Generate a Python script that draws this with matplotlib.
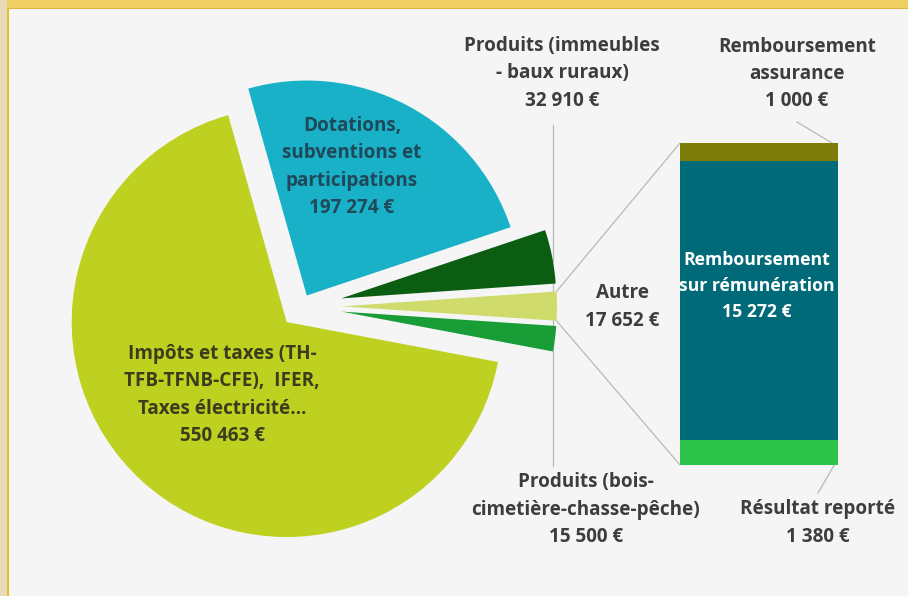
import matplotlib
matplotlib.use("Agg")
import matplotlib.pyplot as plt
from matplotlib.patches import Rectangle, ConnectionPatch
import numpy as np

# ---------------- data ----------------
pie_categories = ["Produits (bois-\ncimetière-chasse-pêche)",
                  "Autre",
                  "Produits (immeubles\n- baux ruraux)",
                  "Dotations,\nsubventions et\nparticipations",
                  "Impôts et taxes (TH-\nTFB-TFNB-CFE),  IFER,\nTaxes électricité…"]
pie_values = [15500, 17652, 32910, 197274, 550463]
pie_colors = ["#199d36", "#cfdc6c", "#0b5d12", "#19b1c8", "#bed120"]

bar_categories = ["Résultat reporté",
                  "Remboursement\nsur rémunération",
                  "Remboursement\nassurance"]
bar_values = [1380, 15272, 1000]
bar_colors = ["#2dc34a", "#016a78", "#7b7d08"]


def euro(v):
    return f"{v:,}".replace(",", " ") + " €"


W, H = 908, 596
BG = "#f5f5f5"
plt.rcParams['font.family'] = ['Open Sans', 'DejaVu Sans']

fig = plt.figure(figsize=(W / 100, H / 100), dpi=100, facecolor=BG)

# decorative frame (top and left)
fig.add_artist(Rectangle((0, 1 - 8 / H), 1, 8 / H, transform=fig.transFigure,
                         facecolor="#efcf62", edgecolor="none", zorder=0))
fig.add_artist(Rectangle((0, 1 - 9 / H), 1, 1.2 / H, transform=fig.transFigure,
                         facecolor="#dcb640", edgecolor="none", zorder=0))
fig.add_artist(Rectangle((0, 0), 7 / W, 1, transform=fig.transFigure,
                         facecolor="#e6dab9", edgecolor="none", zorder=0))
fig.add_artist(Rectangle((7 / W, 0), 2.2 / W, 1 - 8 / H, transform=fig.transFigure,
                         facecolor="#e4bd2c", edgecolor="none", zorder=0))

# ---------------- pie ----------------
ax = fig.add_axes([0, 0, 1, 1])
ax.set_facecolor("none")
R = 215
explode = [41, 41, 41, 12.3, 21.2]
wedges, _ = ax.pie(pie_values, colors=pie_colors, startangle=-10.7,
                   counterclock=True, radius=R, center=(301, H - 306.4),
                   explode=explode, wedgeprops=dict(linewidth=0, zorder=2),
                   frame=True)
ax.set_xlim(0, W)
ax.set_ylim(0, H)
ax.set_aspect("equal")
ax.axis("off")

txt = "#3d3d3d"
kw = dict(ha="center", va="center", fontsize=13.6, fontweight="bold",
          linespacing=1.5)


def T(x, yimg, s, on=None, **k):
    d = dict(kw)
    d.update(k)
    (on or ax).text(x, H - yimg, s, transform=ax.transData, **d)


T(222, 395, pie_categories[4] + "\n" + euro(pie_values[4]), color="#3a3d1c")
T(352, 167, pie_categories[3] + "\n" + euro(pie_values[3]), color="#1f4858")
T(562, 73, pie_categories[2] + "\n" + euro(pie_values[2]), color=txt)
T(622, 307, pie_categories[1] + "\n" + euro(pie_values[1]), color=txt)
T(586, 510, pie_categories[0] + "\n" + euro(pie_values[0]), color=txt)


# leader lines for the small slices (to points on their outer arc)
def arc_y(w, x, upper=True):
    cx, cy = w.center
    dy = np.sqrt(w.r ** 2 - (x - cx) ** 2)
    return cy + dy if upper else cy - dy


lc = "#b9b9b9"
xl = 553
ax.plot([xl, xl], [H - 125, arc_y(wedges[2], xl)], color=lc, lw=0.9, zorder=1)
ax.plot([xl, xl], [H - 466, arc_y(wedges[0], xl)], color=lc, lw=0.9, zorder=1)

# ---------------- bar ----------------
bx = fig.add_axes([680 / W, (H - 465) / H, 158 / W, 322 / H])
bottom = 0
for v, c in zip(bar_values, bar_colors):
    bx.bar(0, v, width=1, bottom=bottom, color=c, linewidth=0)
    bottom += v
total = sum(bar_values)
bx.set_xlim(-0.5, 0.5)
bx.set_ylim(0, total)
bx.axis("off")

T(757, 286, bar_categories[1] + "\n" + euro(bar_values[1]), on=bx,
  color="white", clip_on=False, fontsize=12.7, linespacing=1.6)
T(797, 74, bar_categories[2] + "\n" + euro(bar_values[2]), color=txt)
T(818, 523, bar_categories[0] + "\n" + euro(bar_values[0]), color=txt)

# connectors from "Autre" slice to the bar
w = wedges[1]
cx, cy = w.center
t1, t2 = np.radians(w.theta1), np.radians(w.theta2)
pt_top = (cx + w.r * np.cos(t2), cy + w.r * np.sin(t2))
pt_bot = (cx + w.r * np.cos(t1), cy + w.r * np.sin(t1))
for pa, pb in [(pt_top, (-0.5, total)), (pt_bot, (-0.5, 0))]:
    cp = ConnectionPatch(xyA=pa, coordsA=ax.transData, xyB=pb,
                         coordsB=bx.transData, color=lc, lw=0.9, zorder=1)
    fig.add_artist(cp)

# leaders for bar labels
ax.plot([797, 832], [H - 122, H - 143], color=lc, lw=0.9, zorder=1)
ax.plot([836, 818], [H - 462, H - 493], color=lc, lw=0.9, zorder=1)

fig.savefig("out.png", dpi=100, facecolor=BG)
